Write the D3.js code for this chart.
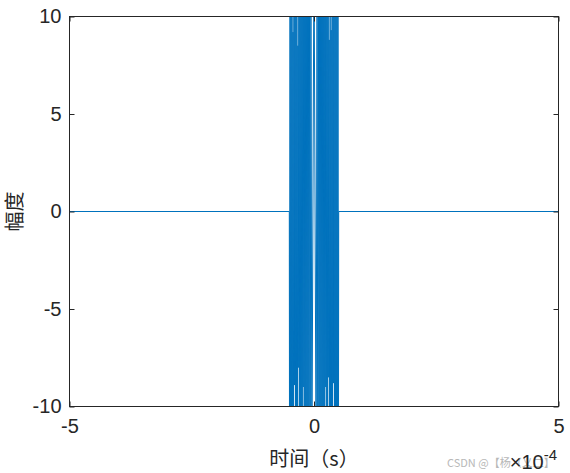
<!DOCTYPE html>
<html>
<head>
<meta charset="utf-8">
<script src="https://cdn.jsdelivr.net/npm/d3@7"></script>
<style>
  html, body { margin: 0; padding: 0; background: #fff; }
  svg { display: block; }
</style>
</head>
<body>
<svg id="chart" width="570" height="473"></svg>
<script>
// ---- data (time in units of 1e-4 s, amplitude) ----
const timeE4 = [
  -5, -0.505,
  -0.50, -0.49, -0.48, -0.47, -0.46, -0.45, -0.44, -0.43, -0.42, -0.41,
  -0.40, -0.39, -0.38, -0.37, -0.36, -0.35, -0.34, -0.33, -0.32, -0.31,
  -0.30, -0.29, -0.28, -0.27, -0.26, -0.25, -0.24, -0.23, -0.22, -0.21,
  -0.20, -0.19, -0.18, -0.17, -0.16, -0.15, -0.14, -0.13, -0.12, -0.11,
  -0.10, -0.09, -0.077, -0.063, -0.044,
  0,
  0.044, 0.063, 0.077, 0.09,
  0.10, 0.11, 0.12, 0.13, 0.14, 0.15, 0.16, 0.17, 0.18, 0.19,
  0.20, 0.21, 0.22, 0.23, 0.24, 0.25, 0.26, 0.27, 0.28, 0.29,
  0.30, 0.31, 0.32, 0.33, 0.34, 0.35, 0.36, 0.37, 0.38, 0.39,
  0.40, 0.41, 0.42, 0.43, 0.44, 0.45, 0.46, 0.47, 0.48, 0.49,
  0.50, 0.505, 5
];
const amplitude = [
  0, 0,
  -14, 14, -14, 14, -14, 14, -14, 9.2, -14, 14,
  -8.9, 14, -14, 14, -14, 14, -14, 8.5, -8, 14,
  -14, 14, -14, 14, -14, 14, -14, 14, -9, 14,
  -14, 14, -14, 14, -14, 14, -14, 14, -14, 14,
  -14, 14, -14, 14, -14,
  14,
  -14, 14, -14, 14,
  -14, 14, -14, 14, -14, 14, -14, 14, -14, 14,
  -14, 14, -14, 14, -9, 14, -14, 14, -14, 14,
  -8.5, 8.8, -14, 14, -14, 9.3, -14, 14, -14, 14,
  -8.8, 14, -14, 14, -14, 14, -14, 14, -14, 14,
  -14, 0, 0
];
const xTicks = [-5, 0, 5];
const yTicks = [-10, -5, 0, 5, 10];
const xDomain = [-5, 5];
const yDomain = [-10, 10];
const xLabel = "时间（s）";
const yLabel = "幅度";
const exponentBase = "×10";
const exponentPower = "-4";
const watermark = "CSDN @【杨（乂二】";

// ---- layout ----
const svg = d3.select("#chart");
const L = 69.5, R = 558.5, T = 16.5, B = 406.5;
const x = d3.scaleLinear().domain(xDomain).range([L, R]);
const y = d3.scaleLinear().domain(yDomain).range([B, T]);
const axisColor = "#262626";
const numFont = "'Liberation Sans', Arial, sans-serif";
const cjkFont = "'Noto Sans CJK SC', 'Noto Sans', sans-serif";

// clip
svg.append("defs").append("clipPath").attr("id", "plotClip")
  .append("rect").attr("x", L).attr("y", T).attr("width", R - L).attr("height", B - T);

// signal line
const pts = timeE4.map((t, i) => [t, amplitude[i]]);
svg.append("path")
  .datum(pts)
  .attr("clip-path", "url(#plotClip)")
  .attr("fill", "none")
  .attr("stroke", "#0072BD")
  .attr("stroke-width", 1)
  .attr("stroke-linejoin", "miter")
  .attr("d", d3.line().x(d => x(d[0])).y(d => y(d[1])));

// axes
function styleAxis(g, showLabels) {
  g.select(".domain").remove();
  g.selectAll(".tick line").attr("stroke", axisColor).attr("stroke-width", 1);
  g.selectAll(".tick text")
    .attr("fill", axisColor)
    .style("font-family", numFont)
    .style("font-size", "20px");
  if (!showLabels) g.selectAll(".tick text").remove();
}
const fmt = d => d3.format("d")(d).replace("−", "-");
svg.append("g").attr("transform", `translate(0,${B})`)
  .call(d3.axisBottom(x).tickValues(xTicks).tickSizeInner(-5).tickSizeOuter(0).tickPadding(12).tickFormat(fmt))
  .call(g => styleAxis(g, true));
svg.append("g").attr("transform", `translate(0,${T})`)
  .call(d3.axisTop(x).tickValues(xTicks).tickSizeInner(-5).tickSizeOuter(0))
  .call(g => styleAxis(g, false));
svg.append("g").attr("transform", `translate(${L},0)`)
  .call(d3.axisLeft(y).tickValues(yTicks).tickSizeInner(-5).tickSizeOuter(0).tickPadding(8).tickFormat(fmt))
  .call(g => styleAxis(g, true));
svg.append("g").attr("transform", `translate(${R},0)`)
  .call(d3.axisRight(y).tickValues(yTicks).tickSizeInner(-5).tickSizeOuter(0))
  .call(g => styleAxis(g, false));

// box
svg.append("rect")
  .attr("x", L).attr("y", T).attr("width", R - L).attr("height", B - T)
  .attr("fill", "none").attr("stroke", axisColor).attr("stroke-width", 1);

// axis labels
svg.append("text")
  .attr("x", (L + R) / 2).attr("y", 466)
  .attr("text-anchor", "middle")
  .attr("fill", axisColor)
  .style("font-family", cjkFont).style("font-size", "20px")
  .text(xLabel);
svg.append("text")
  .attr("transform", `translate(22,${(T + B) / 2}) rotate(-90)`)
  .attr("text-anchor", "middle")
  .attr("fill", axisColor)
  .style("font-family", cjkFont).style("font-size", "20px")
  .text(yLabel);

// watermark
svg.append("text")
  .attr("x", 447).attr("y", 467)
  .attr("fill", "#b8b8b8")
  .style("font-family", cjkFont).style("font-size", "11px")
  .text(watermark);

// exponent
const ex = svg.append("text")
  .attr("x", 557).attr("y", 469)
  .attr("text-anchor", "end")
  .attr("fill", axisColor)
  .style("font-family", numFont).style("font-size", "20px");
ex.append("tspan").text(exponentBase);
ex.append("tspan").attr("dy", -9).style("font-size", "15px").text(exponentPower);
</script>
</body>
</html>
